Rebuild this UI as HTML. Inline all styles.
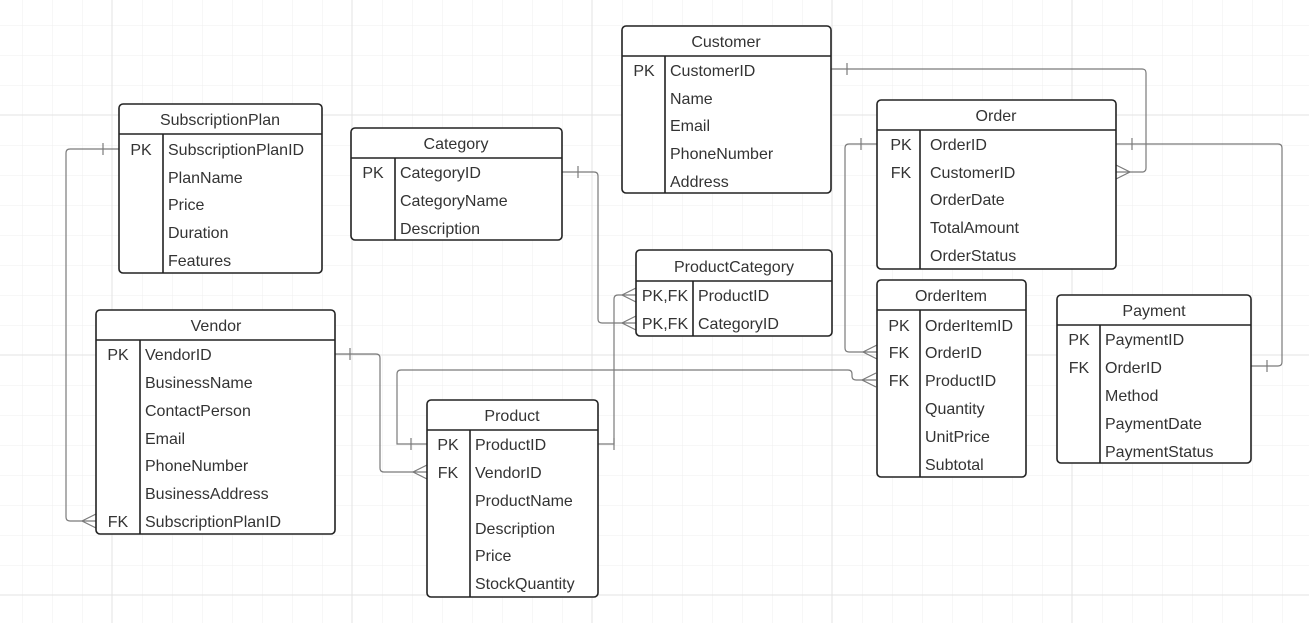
<!DOCTYPE html>
<html><head><meta charset="utf-8"><style>
html,body{margin:0;padding:0;background:#fff;}
svg{display:block;}
text{font-family:"Liberation Sans",Arial,sans-serif;font-size:16px;fill:#333;}
</style></head><body>
<svg width="1309" height="623" viewBox="0 0 1309 623" xmlns="http://www.w3.org/2000/svg">
<defs>
<pattern id="g" x="22" y="25" width="30" height="30" patternUnits="userSpaceOnUse">
<path d="M0 0V30M0 0H30" stroke="#efefef" stroke-width="1" fill="none"/>
</pattern>
</defs>
<rect width="1309" height="623" fill="url(#g)"/>
<g stroke="#e3e3e3" stroke-width="1">
<line x1="112" y1="0" x2="112" y2="623"/><line x1="352" y1="0" x2="352" y2="623"/><line x1="592" y1="0" x2="592" y2="623"/><line x1="832" y1="0" x2="832" y2="623"/><line x1="1072" y1="0" x2="1072" y2="623"/>
<line x1="0" y1="115" x2="1309" y2="115"/><line x1="0" y1="355" x2="1309" y2="355"/><line x1="0" y1="595" x2="1309" y2="595"/>
</g>

<g stroke="#7a7a7a" stroke-width="1.2" fill="none">
<path d="M119 149H70Q66 149 66 153V517Q66 521 70 521H96"/>
<path d="M103 143V155"/><path d="M96 514L82 521L96 528"/>
<path d="M562 172H594Q598 172 598 176V319Q598 323 602 323H636"/>
<path d="M578 166V178"/><path d="M636 316L622 323L636 330"/>
<path d="M598 444H614V299Q614 295 618 295H636"/>
<path d="M614 438V450"/><path d="M636 288L622 295L636 302"/>
<path d="M335 354H376Q380 354 380 358V468Q380 472 384 472H427"/>
<path d="M350 348V360"/><path d="M427 465L413 472L427 479"/>
<path d="M427 444H397V374Q397 370 401 370H848Q852 370 852 374V376Q852 380 856 380H876"/>
<path d="M411 438V450"/><path d="M876 373L862 380L876 387"/>
<path d="M831 69H1142Q1146 69 1146 73V168Q1146 172 1142 172H1116"/>
<path d="M847 63V75"/><path d="M1116 165L1130 172L1116 179"/>
<path d="M877 144H849Q845 144 845 148V348Q845 352 849 352H877"/>
<path d="M861 138V150"/><path d="M877 345L863 352L877 359"/>
<path d="M1116 144H1278Q1282 144 1282 148V362Q1282 366 1278 366H1251"/>
<path d="M1132 138V150"/><path d="M1267 360V372"/>
</g>

<g stroke="#222" stroke-width="1.6" fill="#fff">
<rect x="119" y="104" width="203" height="169" rx="4"/>
<rect x="351" y="128" width="211" height="112" rx="4"/>
<rect x="622" y="26" width="209" height="167" rx="4"/>
<rect x="877" y="100" width="239" height="169" rx="4"/>
<rect x="636" y="250" width="196" height="86" rx="4"/>
<rect x="877" y="280" width="149" height="197" rx="4"/>
<rect x="1057" y="295" width="194" height="168" rx="4"/>
<rect x="96" y="310" width="239" height="224" rx="4"/>
<rect x="427" y="400" width="171" height="197" rx="4"/>
</g>
<g stroke="#222" stroke-width="1.6">
<path d="M119 134H322M163 134V273"/>
<path d="M351 158H562M395 158V240"/>
<path d="M622 56H831M665 56V193"/>
<path d="M877 130H1116M920 130V269"/>
<path d="M636 281H832M693 281V336"/>
<path d="M877 310H1026M920 310V477"/>
<path d="M1057 325H1251M1100 325V463"/>
<path d="M96 340H335M140 340V534"/>
<path d="M427 430H598M470 430V597"/>
</g>

<g>
<text x="220" y="125" text-anchor="middle">SubscriptionPlan</text>
<text x="141" y="155" text-anchor="middle">PK</text>
<text x="168" y="155">SubscriptionPlanID</text>
<text x="168" y="183">PlanName</text>
<text x="168" y="210">Price</text>
<text x="168" y="238">Duration</text>
<text x="168" y="266">Features</text>

<text x="456" y="149" text-anchor="middle">Category</text>
<text x="373" y="178" text-anchor="middle">PK</text>
<text x="400" y="178">CategoryID</text>
<text x="400" y="206">CategoryName</text>
<text x="400" y="234">Description</text>

<text x="726" y="47" text-anchor="middle">Customer</text>
<text x="644" y="76" text-anchor="middle">PK</text>
<text x="670" y="76">CustomerID</text>
<text x="670" y="104">Name</text>
<text x="670" y="131">Email</text>
<text x="670" y="159">PhoneNumber</text>
<text x="670" y="187">Address</text>

<text x="996" y="121" text-anchor="middle">Order</text>
<text x="901" y="150" text-anchor="middle">PK</text>
<text x="901" y="178" text-anchor="middle">FK</text>
<text x="930" y="150">OrderID</text>
<text x="930" y="178">CustomerID</text>
<text x="930" y="205">OrderDate</text>
<text x="930" y="233">TotalAmount</text>
<text x="930" y="261">OrderStatus</text>

<text x="734" y="272" text-anchor="middle">ProductCategory</text>
<text x="665" y="301" text-anchor="middle">PK,FK</text>
<text x="665" y="329" text-anchor="middle">PK,FK</text>
<text x="698" y="301">ProductID</text>
<text x="698" y="329">CategoryID</text>

<text x="951" y="301" text-anchor="middle">OrderItem</text>
<text x="899" y="331" text-anchor="middle">PK</text>
<text x="899" y="358" text-anchor="middle">FK</text>
<text x="899" y="386" text-anchor="middle">FK</text>
<text x="925" y="331">OrderItemID</text>
<text x="925" y="358">OrderID</text>
<text x="925" y="386">ProductID</text>
<text x="925" y="414">Quantity</text>
<text x="925" y="442">UnitPrice</text>
<text x="925" y="470">Subtotal</text>

<text x="1154" y="316" text-anchor="middle">Payment</text>
<text x="1079" y="345" text-anchor="middle">PK</text>
<text x="1079" y="373" text-anchor="middle">FK</text>
<text x="1105" y="345">PaymentID</text>
<text x="1105" y="373">OrderID</text>
<text x="1105" y="401">Method</text>
<text x="1105" y="429">PaymentDate</text>
<text x="1105" y="457">PaymentStatus</text>

<text x="216" y="331" text-anchor="middle">Vendor</text>
<text x="118" y="360" text-anchor="middle">PK</text>
<text x="118" y="527" text-anchor="middle">FK</text>
<text x="145" y="360">VendorID</text>
<text x="145" y="388">BusinessName</text>
<text x="145" y="416">ContactPerson</text>
<text x="145" y="444">Email</text>
<text x="145" y="471">PhoneNumber</text>
<text x="145" y="499">BusinessAddress</text>
<text x="145" y="527">SubscriptionPlanID</text>

<text x="512" y="421" text-anchor="middle">Product</text>
<text x="448" y="450" text-anchor="middle">PK</text>
<text x="448" y="478" text-anchor="middle">FK</text>
<text x="475" y="450">ProductID</text>
<text x="475" y="478">VendorID</text>
<text x="475" y="506">ProductName</text>
<text x="475" y="534">Description</text>
<text x="475" y="561">Price</text>
<text x="475" y="589">StockQuantity</text>
</g>
</svg>
</body></html>
